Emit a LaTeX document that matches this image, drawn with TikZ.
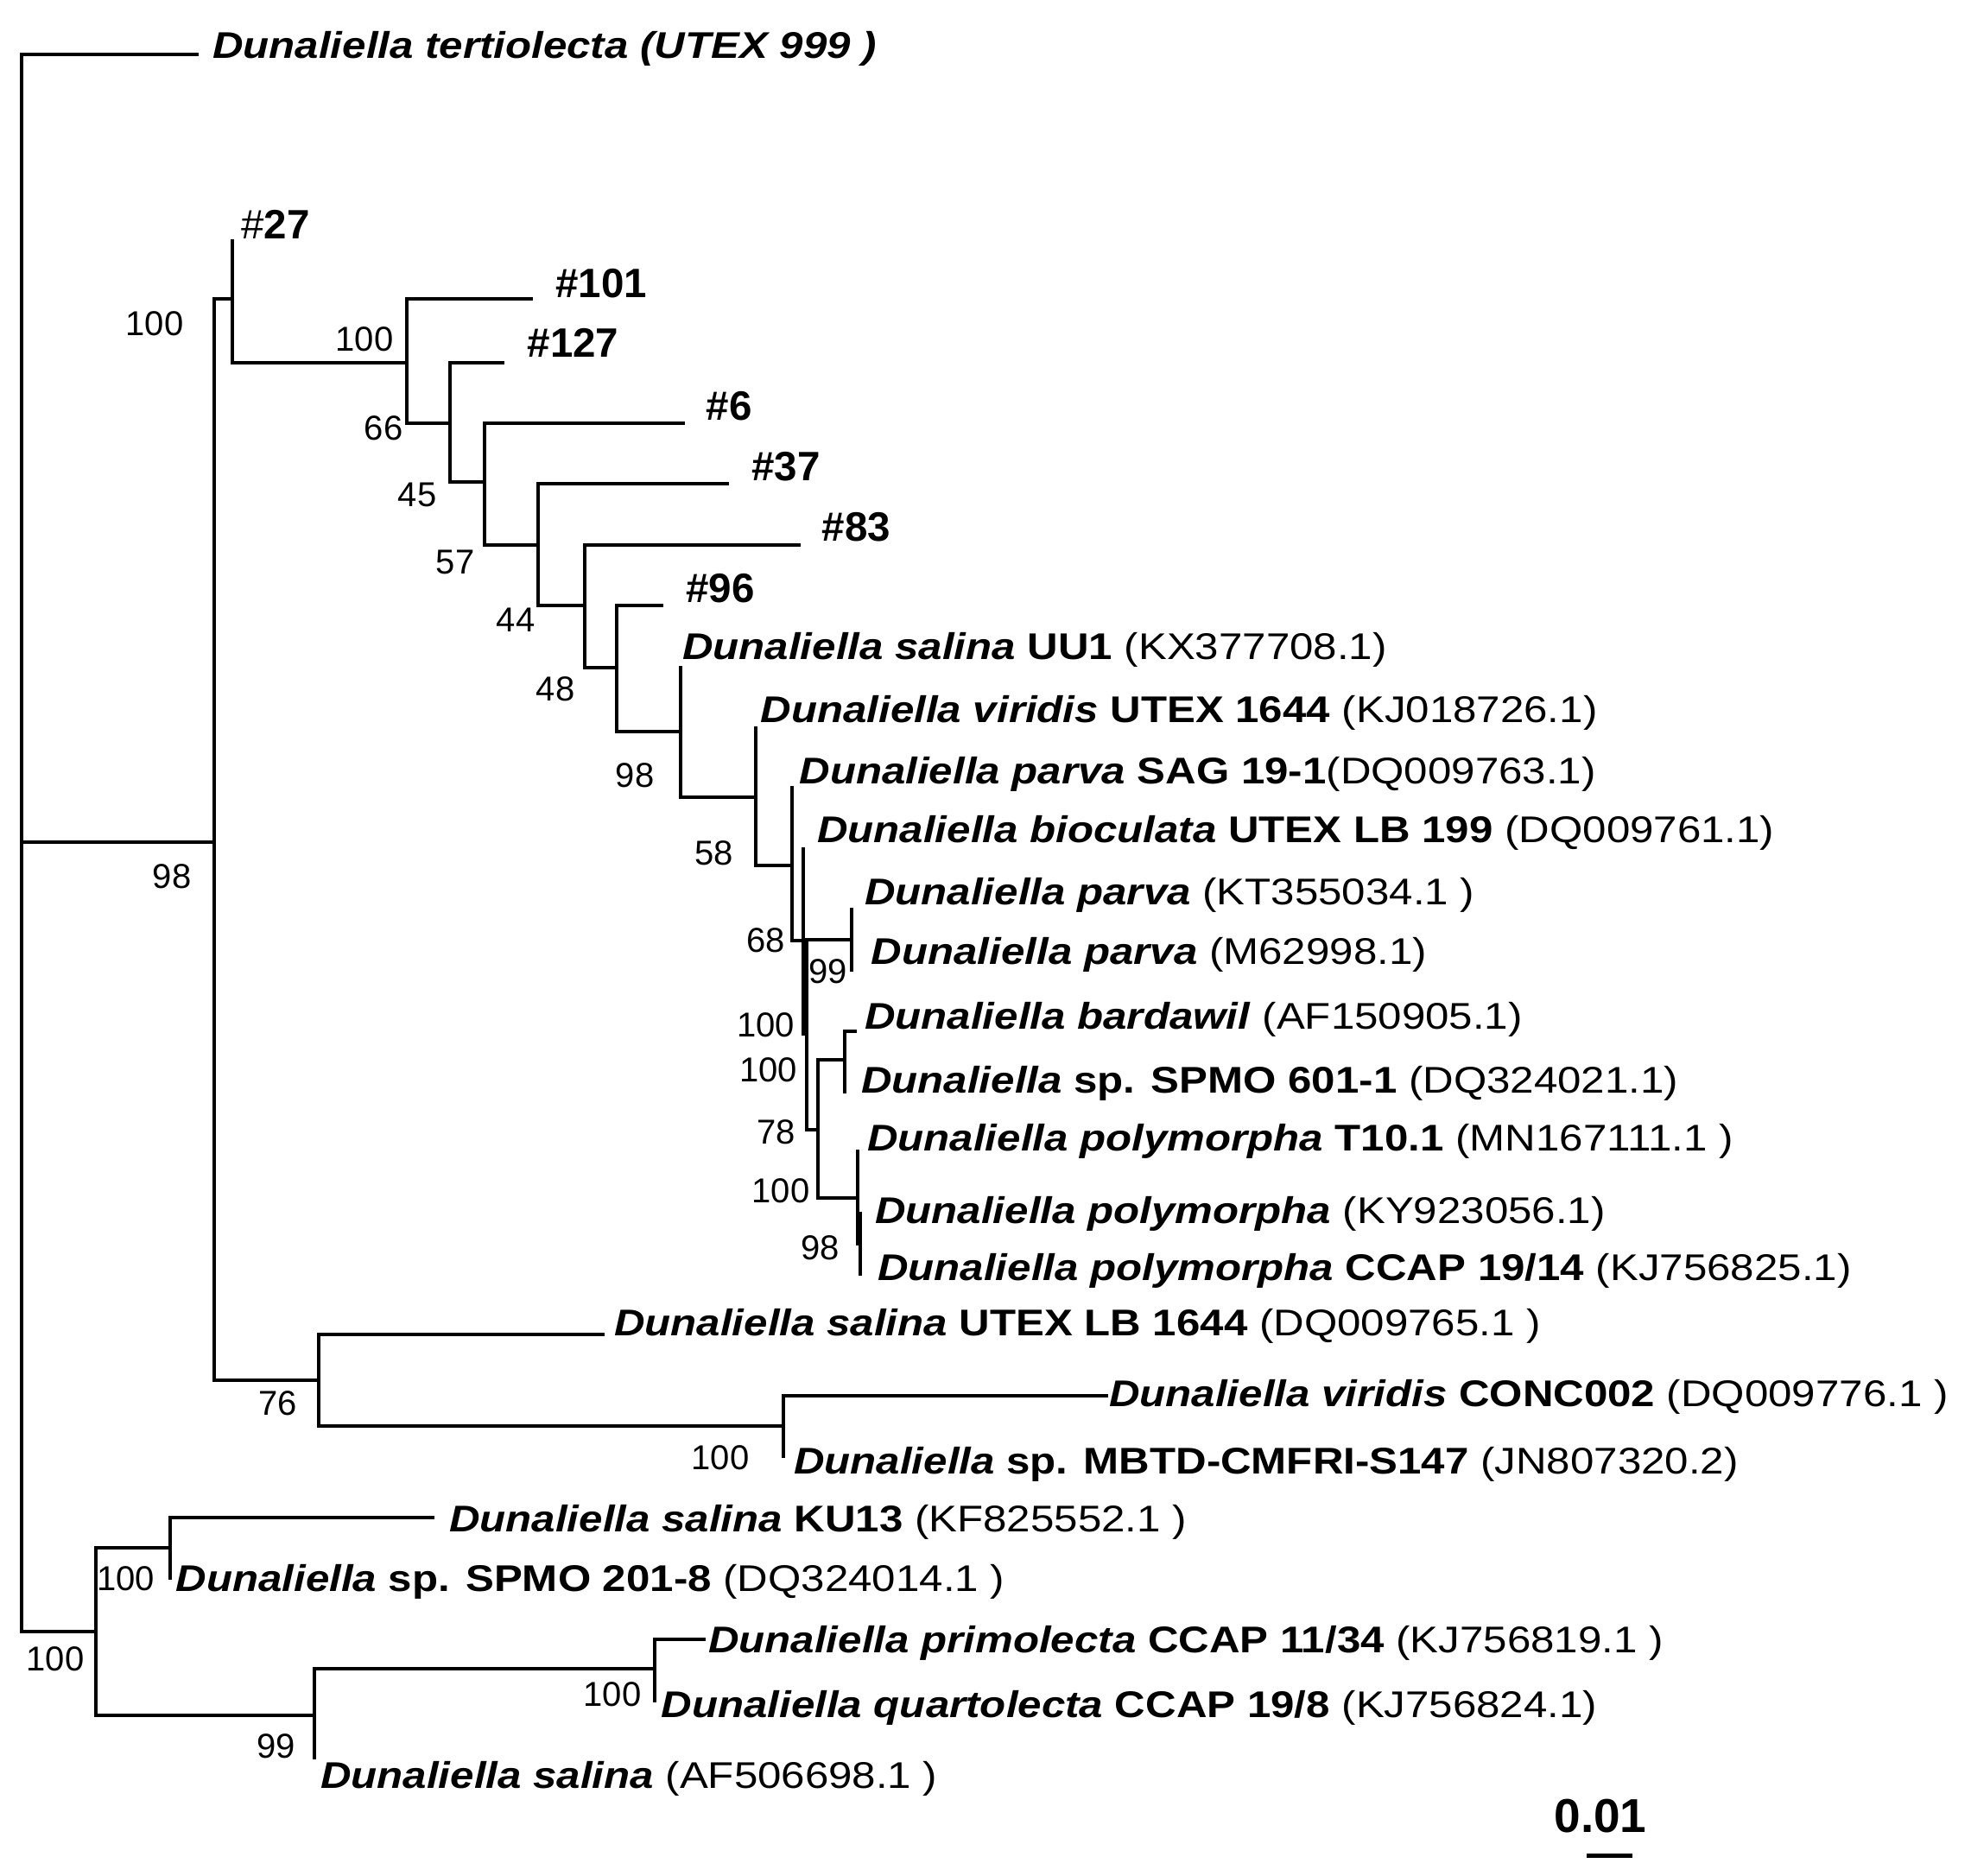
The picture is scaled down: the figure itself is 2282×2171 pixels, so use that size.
\documentclass[tikz,border=0pt]{standalone}
\usepackage{fontspec}
\setmainfont{Liberation Sans}
\newfontfamily\labfont{Liberation Sans}[FakeStretch=1.145]
\newcommand{\bi}[1]{\textbf{\textit{#1}}}
\begin{document}
\begin{tikzpicture}[x=1pt,y=-1pt,
  br/.style={line width=4pt, line cap=rect},
  tiplab/.style={inner sep=0pt, anchor=base west, font=\labfont\fontsize{43pt}{50pt}\selectfont},
  hashlab/.style={inner sep=0pt, anchor=west, font=\fontsize{47.5pt}{55pt}\selectfont\bfseries},
  bs/.style={inner sep=0pt, anchor=center, font=\fontsize{40pt}{48pt}\selectfont}]
\useasboundingbox (0,0) rectangle (2282,2171);
% ---------- node coordinates ----------
\coordinate (R) at (24.7,975);
\coordinate (tT) at (228,62.5);
\coordinate (BIG) at (248,975);
\coordinate (BOT) at (111,1889.4);
\coordinate (G27) at (268.7,346);
\coordinate (t27) at (268.7,279);
\coordinate (N76) at (369,1598.4);
\coordinate (N100b) at (471.4,419.6);
\coordinate (t101) at (615,346);
\coordinate (N66) at (520.5,489.7);
\coordinate (t127) at (582,419.6);
\coordinate (N45) at (561,558);
\coordinate (t6) at (790.6,489.7);
\coordinate (N57) at (623,631);
\coordinate (t37) at (842,560);
\coordinate (N44) at (676.5,701.4);
\coordinate (t83) at (924.6,631);
\coordinate (N48) at (713.5,773);
\coordinate (t96) at (765.8,701.4);
\coordinate (N98a) at (788,846.8);
\coordinate (tUU1) at (788,773);
\coordinate (N58) at (875,923.4);
\coordinate (tvir) at (875,843);
\coordinate (N68) at (916.7,1001.7);
\coordinate (tSAG) at (916.7,912);
\coordinate (A) at (930,1089);
\coordinate (tbio) at (930,983);
\coordinate (B) at (933.5,1196.7);
\coordinate (P99) at (985.7,1088);
\coordinate (tKT) at (985.7,1052.7);
\coordinate (tM6) at (985.7,1123);
\coordinate (C) at (946.7,1308);
\coordinate (D) at (977.7,1227);
\coordinate (tbard) at (990,1194);
\coordinate (tSP601) at (977.7,1264);
\coordinate (E) at (993.3,1387);
\coordinate (tT10) at (993.3,1333);
\coordinate (F) at (996,1440);
\coordinate (tKY) at (996,1405);
\coordinate (tCC) at (996,1475);
\coordinate (tLB) at (698,1545);
\coordinate (N100c) at (907,1650.6);
\coordinate (tCONC) at (1281,1615.5);
\coordinate (tMBTD) at (907,1686);
\coordinate (KUn) at (197.4,1792);
\coordinate (tKU) at (501,1756.7);
\coordinate (tSP201) at (197.4,1827);
\coordinate (N99) at (363.5,1985.7);
\coordinate (PQ) at (757.6,1932);
\coordinate (tAF) at (363.5,2035);
\coordinate (tpri) at (815,1898);
\coordinate (tqua) at (757.6,1968.5);
% ---------- branches ----------
\draw[br] (R |- tT) -- (R |- BOT);
\draw[br] (R |- tT) -- (tT);
\draw[br] (R |- BIG) -- (BIG);
\draw[br] (R |- BOT) -- (BOT);
\draw[br] (BIG |- G27) -- (BIG |- N76);
\draw[br] (BIG |- G27) -- (G27);
\draw[br] (BIG |- N76) -- (N76);
\draw[br] (t27) -- (G27 |- N100b) -- (N100b);
\draw[br] (N100b |- t101) -- (N100b |- N66);
\draw[br] (N100b |- t101) -- (t101);
\draw[br] (N100b |- N66) -- (N66);
\draw[br] (N66 |- t127) -- (N66 |- N45);
\draw[br] (N66 |- t127) -- (t127);
\draw[br] (N66 |- N45) -- (N45);
\draw[br] (N45 |- t6) -- (N45 |- N57);
\draw[br] (N45 |- t6) -- (t6);
\draw[br] (N45 |- N57) -- (N57);
\draw[br] (N57 |- t37) -- (N57 |- N44);
\draw[br] (N57 |- t37) -- (t37);
\draw[br] (N57 |- N44) -- (N44);
\draw[br] (N44 |- t83) -- (N44 |- N48);
\draw[br] (N44 |- t83) -- (t83);
\draw[br] (N44 |- N48) -- (N48);
\draw[br] (N48 |- t96) -- (N48 |- N98a);
\draw[br] (N48 |- t96) -- (t96);
\draw[br] (N48 |- N98a) -- (N98a);
\draw[br] (tUU1) -- (N98a |- N58) -- (N58);
\draw[br] (tvir) -- (N58 |- N68) -- (N68);
\draw[br] (tSAG) -- (N68 |- A) -- (A);
\draw[br] (tbio) -- (A |- B) -- (B);
\draw[br] (B |- P99) -- (B |- C);
\draw[br] (B |- P99) -- (P99);
\draw[br] (B |- C) -- (C);
\draw[br] (tKT) -- (tM6);
\draw[br] (C |- D) -- (C |- E);
\draw[br] (C |- D) -- (D);
\draw[br] (C |- E) -- (E);
\draw[br] (D |- tbard) -- (tSP601);
\draw[br] (D |- tbard) -- (tbard);
\draw[br] (tT10) -- (E |- F) -- (F);
\draw[br] (tKY) -- (tCC);
\draw[br] (N76 |- tLB) -- (N76 |- N100c);
\draw[br] (N76 |- tLB) -- (tLB);
\draw[br] (N76 |- N100c) -- (N100c);
\draw[br] (N100c |- tCONC) -- (tMBTD);
\draw[br] (N100c |- tCONC) -- (tCONC);
\draw[br] (BOT |- KUn) -- (BOT |- N99);
\draw[br] (BOT |- KUn) -- (KUn);
\draw[br] (BOT |- N99) -- (N99);
\draw[br] (KUn |- tKU) -- (tSP201);
\draw[br] (KUn |- tKU) -- (tKU);
\draw[br] (N99 |- PQ) -- (tAF);
\draw[br] (N99 |- PQ) -- (PQ);
\draw[br] (PQ |- tpri) -- (tqua);
\draw[br] (PQ |- tpri) -- (tpri);
% ---------- tip labels ----------
\node[tiplab] (LT) at (246,67) {\bi{Dunaliella tertiolecta (UTEX 999 )}};
\node[hashlab] (L27) at (279,260) {\mdseries\#\bfseries27};
\node[hashlab] (L101) at (643,328.5) {\#101};
\node[hashlab] (L127) at (610.5,397) {\#127};
\node[hashlab] (L6) at (817.5,470.5) {\#6};
\node[hashlab] (L37) at (870,540) {\#37};
\node[hashlab] (L83) at (951.5,610) {\#83};
\node[hashlab] (L96) at (794,681) {\#96};
\node[tiplab] (LUU1) at (790,763.2) {\bi{Dunaliella salina} \textbf{UU1} (KX377708.1)};
\node[tiplab] (Lvir) at (880.5,836.2) {\bi{Dunaliella viridis} \textbf{UTEX 1644} (KJ018726.1)};
\node[tiplab] (LSAG) at (925.3,907.7) {\bi{Dunaliella parva} \textbf{SAG 19-1}(DQ009763.1)};
\node[tiplab] (Lbio) at (946,975.8) {\bi{Dunaliella bioculata} \textbf{UTEX LB 199} (DQ009761.1)};
\node[tiplab] (LKT) at (1001,1047.2) {\bi{Dunaliella parva} (KT355034.1 )};
\node[tiplab] (LM6) at (1008.6,1116.9) {\bi{Dunaliella parva} (M62998.1)};
\node[tiplab] (Lbard) at (1001,1191.2) {\bi{Dunaliella bardawil} (AF150905.1)};
\node[tiplab] (LSP601) at (997,1265.2) {\bi{Dunaliella} \textbf{sp. SPMO 601-1} (DQ324021.1)};
\node[tiplab] (LT10) at (1004,1332.2) {\bi{Dunaliella polymorpha} \textbf{T10.1} (MN167111.1 )};
\node[tiplab] (LKY) at (1013,1416.7) {\bi{Dunaliella polymorpha} (KY923056.1)};
\node[tiplab] (LCC) at (1016,1482.2) {\bi{Dunaliella polymorpha} \textbf{CCAP 19/14} (KJ756825.1)};
\node[tiplab] (LLB) at (711,1546.2) {\bi{Dunaliella salina} \textbf{UTEX LB 1644} (DQ009765.1 )};
\node[tiplab] (LCONC) at (1284,1628.2) {\bi{Dunaliella viridis} \textbf{CONC002} (DQ009776.1 )};
\node[tiplab] (LMBTD) at (919,1706.2) {\bi{Dunaliella} \textbf{sp. MBTD-CMFRI-S147} (JN807320.2)};
\node[tiplab] (LKU) at (520,1773.7) {\bi{Dunaliella salina} \textbf{KU13} (KF825552.1 )};
\node[tiplab] (LSP201) at (203.5,1842.2) {\bi{Dunaliella} \textbf{sp. SPMO 201-8} (DQ324014.1 )};
\node[tiplab] (Lpri) at (820,1913.7) {\bi{Dunaliella primolecta} \textbf{CCAP 11/34} (KJ756819.1 )};
\node[tiplab] (Lqua) at (765.4,1988.2) {\bi{Dunaliella quartolecta} \textbf{CCAP 19/8} (KJ756824.1)};
\node[tiplab] (LAF) at (371,2070.7) {\bi{Dunaliella salina} (AF506698.1 )};
% ---------- bootstrap values ----------
\node[bs] (b1) at (179,374.5) {100};
\node[bs] (b2) at (422,393) {100};
\node[bs] (b3) at (444,496) {66};
\node[bs] (b4) at (483,573) {45};
\node[bs] (b5) at (527,651) {57};
\node[bs] (b6) at (597,717.5) {44};
\node[bs] (b7) at (643,797.5) {48};
\node[bs] (b8) at (735,898) {98};
\node[bs] (b9) at (826.5,988) {58};
\node[bs] (b10) at (886.5,1089) {68};
\node[bs] (b11) at (958.5,1125) {99};
\node[bs] (b12) at (886.5,1187) {100};
\node[bs] (b13) at (889.5,1239) {100};
\node[bs] (b14) at (898.5,1311) {78};
\node[bs] (b15) at (904,1379) {100};
\node[bs] (b16) at (949.5,1445) {98};
\node[bs] (b17) at (199.2,1014.5) {98};
\node[bs] (b18) at (322,1625) {76};
\node[bs] (b19) at (834,1688) {100};
\node[bs] (b20) at (145.5,1827.5) {100};
\node[bs] (b21) at (64,1921) {100};
\node[bs] (b22) at (709,1962) {100};
\node[bs] (b23) at (319.5,2021.7) {99};
% ---------- scale bar ----------
\node[inner sep=0pt, font=\fontsize{55pt}{60pt}\selectfont\bfseries] (scl) at (1853,2103) {0.01};
\coordinate (sb1) at (1837,2148);
\coordinate (sb2) at (1890,2148);
\draw[line width=5pt] (sb1) -- (sb2);
\end{tikzpicture}
\end{document}
